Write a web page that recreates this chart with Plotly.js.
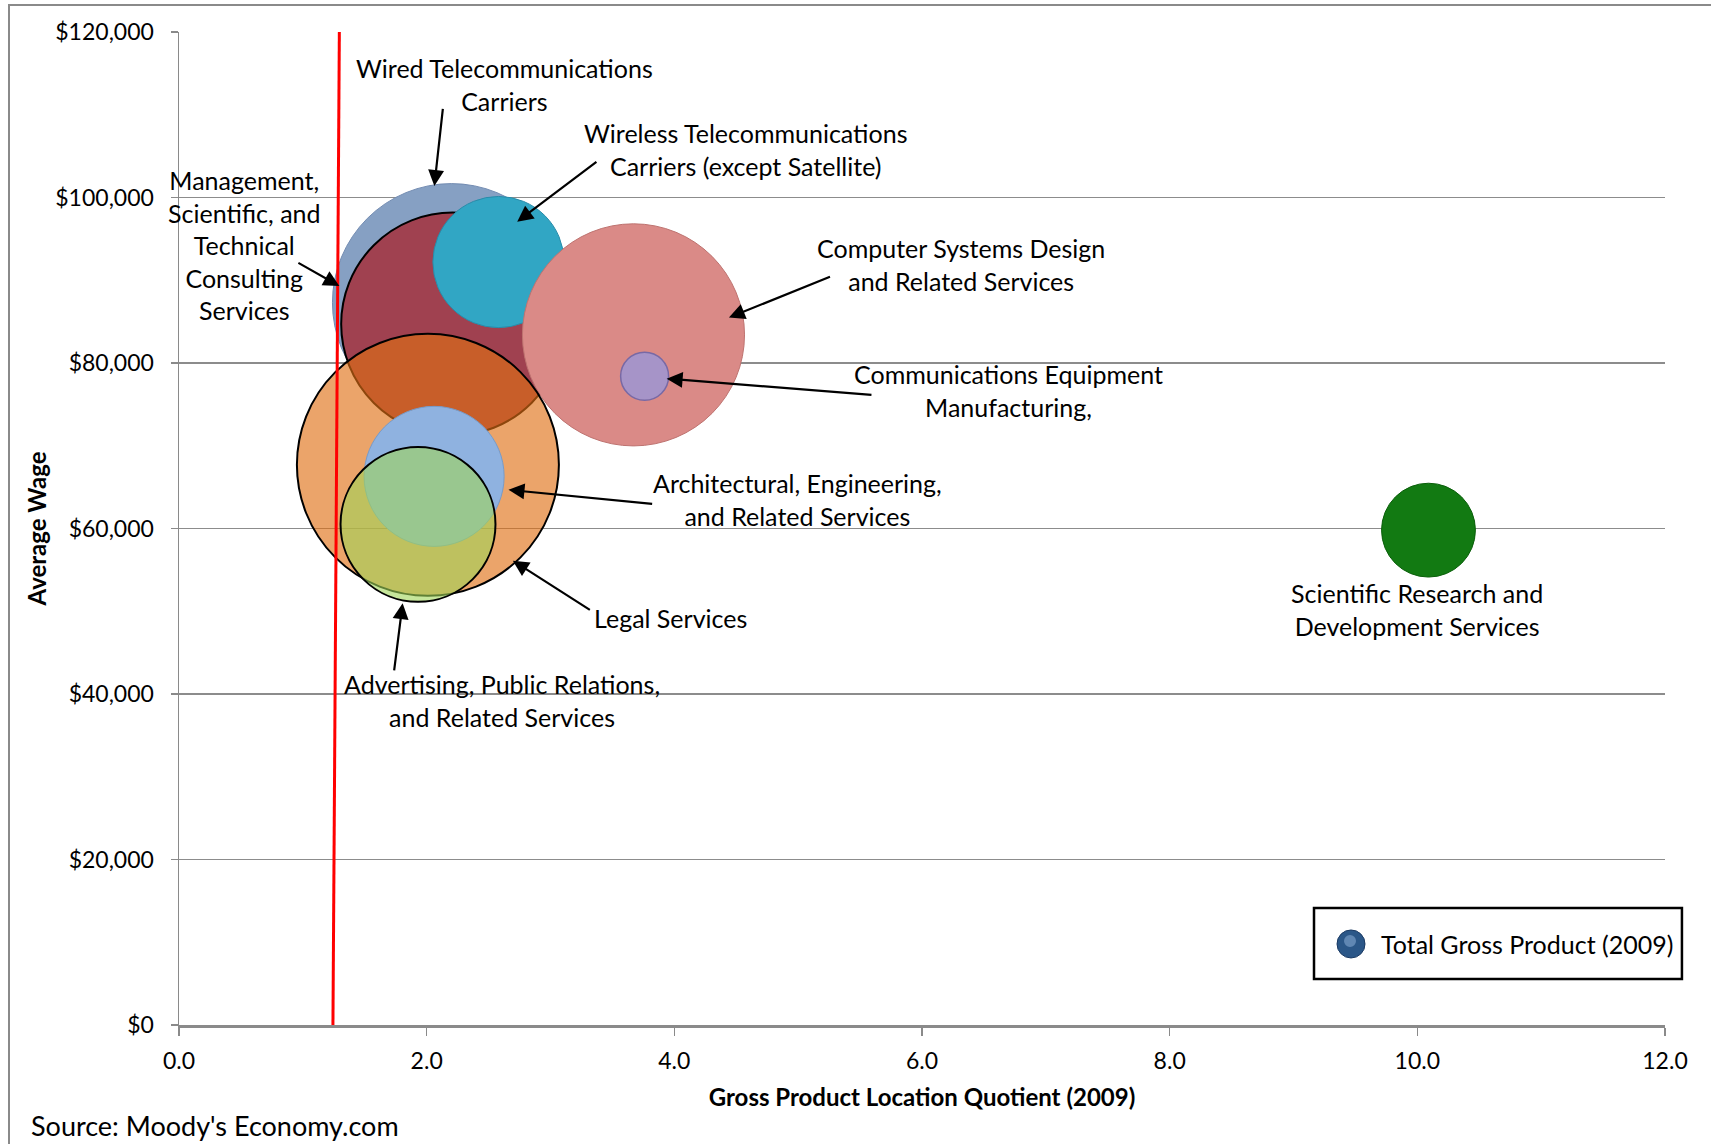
<!DOCTYPE html>
<html>
<head>
<meta charset="utf-8">
<script src="https://cdn.plot.ly/plotly-3.0.1.min.js"></script>
<style>html,body{margin:0;padding:0;background:#fff;} #chart{width:1711px;height:1144px;}</style>
</head>
<body>
<div id="chart"></div>
<script>
// ---- Data ----
const industries = [
  "Wired Telecommunications Carriers",
  "Management, Scientific, and Technical Consulting Services",
  "Wireless Telecommunications Carriers (except Satellite)",
  "Computer Systems Design and Related Services",
  "Communications Equipment Manufacturing",
  "Legal Services",
  "Architectural, Engineering, and Related Services",
  "Advertising, Public Relations, and Related Services",
  "Scientific Research and Development Services"
];
const locationQuotient = [2.20, 2.21, 2.58, 3.67, 3.76, 2.01, 2.06, 1.93, 10.09];
const averageWage = [87300, 84700, 92200, 83400, 78400, 67700, 66300, 60500, 59800];
const grossProduct = [5660, 4970, 1720, 4930, 230, 6860, 1960, 2400, 880];

const xTickVals = [0, 2, 4, 6, 8, 10, 12];
const xTickLabels = ["0.0", "2.0", "4.0", "6.0", "8.0", "10.0", "12.0"];
const yTickVals = [0, 20000, 40000, 60000, 80000, 100000, 120000];
const yTickLabels = ["$0", "$20,000", "$40,000", "$60,000", "$80,000", "$100,000", "$120,000"];
const seriesName = "Total Gross Product (2009)";

// ---- Styles ----
const bubbleColors = [
  "rgb(134,160,195)", "rgb(160,65,80)", "rgb(49,166,196)", "rgb(218,138,135)",
  "rgb(166,148,200)", "rgba(223,111,19,0.63)", "rgb(143,178,224)",
  "rgba(160,214,88,0.6)", "rgb(18,122,18)"
];
const lineColors = ["rgb(115,140,178)", "#000", "rgb(40,140,170)", "rgb(190,115,112)",
  "rgb(120,105,165)", "#000", "rgb(120,155,200)", "#000", "rgb(10,95,10)"];
const lineWidths = [1, 2, 1, 1, 1.5, 2, 1, 2, 1];

const FONT = "Lato, 'Open Sans', sans-serif";
const maxDiameter = 262;
const sizeref = 2 * Math.max(...grossProduct) / (maxDiameter * maxDiameter);

const bubbles = {
  type: "scatter", mode: "markers",
  x: locationQuotient, y: averageWage, text: industries,
  name: seriesName,
  marker: {
    size: grossProduct, sizemode: "area", sizeref: sizeref,
    color: bubbleColors, opacity: 1,
    line: {color: lineColors, width: lineWidths}
  },
  hoverinfo: "text", showlegend: false, cliponaxis: false
};

// ---- Labels ----
const labelFont = {family: FONT, size: 25, color: "#000"};
const labels = [
  {t: "Wired Telecommunications<br>Carriers", x: 2.626, y: 113700, tx: 2.132, ty: 110900, hx: 2.062, hy: 101400},
  {t: "Wireless Telecommunications<br>Carriers (except Satellite)", x: 4.573, y: 105800, tx: 3.383, ty: 104450, hx: 2.731, hy: 97080},
  {t: "Management,<br>Scientific, and<br>Technical<br>Consulting<br>Services", x: 0.529, y: 94300, tx: 0.952, ty: 92200, hx: 1.295, hy: 89300},
  {t: "Computer Systems Design<br>and Related Services", x: 6.317, y: 91940, tx: 5.269, ty: 90490, hx: 4.441, hy: 85490},
  {t: "Communications Equipment<br>Manufacturing,", x: 6.696, y: 76660, tx: 5.604, ty: 76130, hx: 3.938, hy: 78110},
  {t: "Architectural, Engineering,<br>and Related Services", x: 4.996, y: 63490, tx: 3.833, ty: 62960, hx: 2.661, hy: 64670},
  {t: "Legal Services", x: 3.965, y: 49130, tx: 3.330, ty: 50050, hx: 2.696, hy: 56110},
  {t: "Advertising, Public Relations,<br>and Related Services", x: 2.608, y: 39250, tx: 1.736, ty: 42680, hx: 1.806, hy: 50970},
  {t: "Scientific Research and<br>Development Services", x: 10.0, y: 50180}
];
const annotations = [];
labels.forEach(l => {
  annotations.push({x: l.x, y: l.y, xref: "x", yref: "y", text: l.t, showarrow: false,
    font: labelFont, align: "center", xanchor: "center", yanchor: "middle"});
  if (l.hx !== undefined) {
    annotations.push({x: l.hx, y: l.hy, xref: "x", yref: "y", ax: l.tx, ay: l.ty,
      axref: "x", ayref: "y", text: "", showarrow: true, arrowhead: 2, arrowsize: 1.45,
      arrowwidth: 2.2, arrowcolor: "#000", standoff: 0, startstandoff: 0});
  }
});
// Source note
annotations.push({x: -0.1009, y: -0.1017, xref: "paper", yref: "paper", xanchor: "left", yanchor: "middle",
  text: "Source: Moody's Economy.com", showarrow: false, font: {family: FONT, size: 27, color: "#000"}});
// Legend text (drawn manually so the marker can be as large as in the original)
annotations.push({x: 0.8075, y: 0.0816, xref: "paper", yref: "paper", xanchor: "left", yanchor: "middle",
  text: seriesName, showarrow: false, font: {family: FONT, size: 25, color: "#000"}});

const layout = {
  width: 1711, height: 1144,
  margin: {l: 179, r: 46, t: 32, b: 119},
  paper_bgcolor: "#fff", plot_bgcolor: "#fff",
  font: {family: FONT, size: 23, color: "#000"},
  xaxis: {
    range: [0, 12], tickvals: xTickVals, ticktext: xTickLabels,
    showgrid: false, zeroline: false,
    showline: true, linecolor: "#8a8a8a", linewidth: 2.5,
    ticks: "outside", ticklen: 8, tickwidth: 1.5, tickcolor: "#8a8a8a",
    ticklabelstandoff: 6,
    tickfont: {family: FONT, size: 23, color: "#000"},
    title: {text: "<b>Gross Product Location Quotient (2009)</b>", font: {family: FONT, size: 24, color: "#000"}, standoff: 16}
  },
  yaxis: {
    range: [0, 120000], tickvals: yTickVals, ticktext: yTickLabels,
    showgrid: true, gridcolor: "#8c8c8c", gridwidth: 1.5, zeroline: false,
    showline: true, linecolor: "#8a8a8a", linewidth: 1.5,
    ticks: "outside", ticklen: 7, tickwidth: 1.5, tickcolor: "#8a8a8a",
    ticklabelstandoff: 12,
    tickfont: {family: FONT, size: 23, color: "#000"},
    title: {text: "<b>Average Wage</b>", font: {family: FONT, size: 24, color: "#000"}, standoff: 2}
  },
  showlegend: false,
  shapes: [
    {type: "line", xref: "x", yref: "y", x0: 1.243, y0: -300, x1: 1.295, y1: 120300,
     line: {color: "#ff0000", width: 3}, layer: "above"},
    {type: "rect", xref: "paper", yref: "paper", x0: -0.1144, y0: 1.0272, x1: 1.04, y1: -0.13,
     line: {color: "#8a8a8a", width: 2}, fillcolor: "rgba(0,0,0,0)", layer: "below"},
    // legend box
    {type: "rect", xref: "paper", yref: "paper", x0: 0.7638, y0: 0.0463, x1: 1.0114, y1: 0.1178,
     line: {color: "#000", width: 2.5}, fillcolor: "#fff", layer: "above"},
    // legend marker (sphere-like)
    {type: "circle", xref: "paper", yref: "paper", xsizemode: "pixel", ysizemode: "pixel",
     xanchor: 0.7887, yanchor: 0.0816, x0: -14, x1: 14, y0: -14, y1: 14,
     line: {color: "#1a3a63", width: 1}, fillcolor: "#2B5788", layer: "above"},
    {type: "circle", xref: "paper", yref: "paper", xsizemode: "pixel", ysizemode: "pixel",
     xanchor: 0.7887, yanchor: 0.0816, x0: -7, x1: 5, y0: -3, y1: 9,
     line: {width: 0}, fillcolor: "rgba(140,175,215,0.55)", layer: "above"}
  ],
  annotations: annotations,
  hovermode: false
};

Plotly.newPlot("chart", [bubbles], layout, {displayModeBar: false, staticPlot: true});
</script>
</body>
</html>
